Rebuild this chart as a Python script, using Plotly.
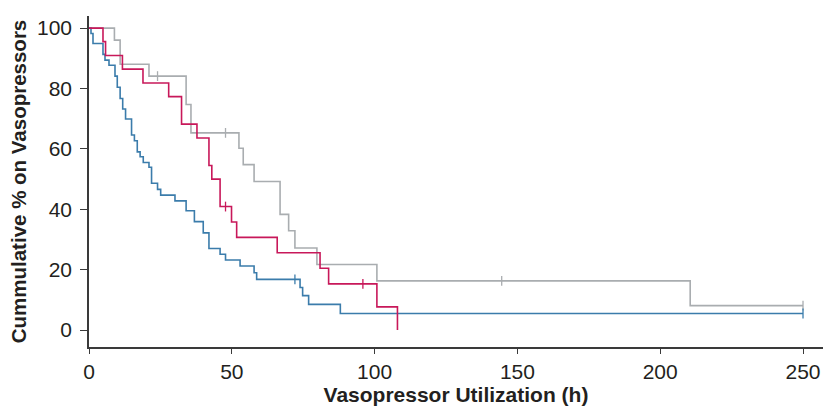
import plotly.graph_objects as go

# ---- data ----
gray_t = [0, 8.9, 10.9, 21.0, 34.0, 35.7, 52.5, 54.0, 57.8, 66.9, 69.9, 72.1, 79.8, 100.8, 210.5, 250]
gray_s = [100, 96, 88, 84.1, 74.7, 65.3, 60.2, 54.8, 49.2, 38.3, 32.9, 27.2, 21.7, 16.3, 8.1, 8.1]
gray_cens_t = [24.0, 47.8, 144.5, 250]
gray_cens_s = [84.1, 65.3, 16.3, 8.1]

red_t = [0, 4.9, 5.8, 11.7, 18.9, 27.9, 32.4, 37.8, 42.0, 43.0, 45.9, 49.9, 51.7, 65.9, 80.9, 83.9, 100.8, 108.0]
red_s = [100, 95.5, 90.9, 86.4, 81.8, 77.3, 68.2, 63.6, 54.5, 50.0, 40.9, 35.8, 30.7, 25.6, 20.5, 15.3, 7.7, 0]
red_cens_t = [47.8, 95.9]
red_cens_s = [40.9, 15.3]

blue_t = [0, 0.7, 1.4, 4.9, 5.6, 7.0, 9.1, 9.9, 10.9, 11.8, 12.8, 14.9, 15.9, 16.9, 17.9, 19.0, 21.0, 21.9,
          24.0, 25.1, 30.1, 34.0, 36.9, 40.0, 42.0, 45.9, 47.8, 52.9, 57.8, 58.7, 73.9, 74.8, 76.9, 88.0, 250]
blue_s = [100, 98.2, 94.9, 91.3, 89.4, 87.7, 84.1, 80.4, 76.7, 73.2, 69.9, 64.6, 62.7, 59.0, 57.4, 55.5, 53.9, 48.6,
          46.6, 44.7, 42.8, 39.5, 35.9, 32.2, 27.0, 25.1, 23.2, 21.2, 19.0, 16.8, 14.1, 11.4, 8.5, 5.5, 5.5]
blue_cens_t = [72.1, 250]
blue_cens_s = [16.8, 5.5]

x_ticks = [0, 50, 100, 150, 200, 250]
y_ticks = [0, 20, 40, 60, 80, 100]

GRAY = "#a9adb0"
BLUE = "#3b7cab"
RED = "#c8185a"

fig = go.Figure()
for t, s, ct, cs, col in [(gray_t, gray_s, gray_cens_t, gray_cens_s, GRAY),
                          (blue_t, blue_s, blue_cens_t, blue_cens_s, BLUE),
                          (red_t, red_s, red_cens_t, red_cens_s, RED)]:
    fig.add_trace(go.Scatter(x=t, y=s, mode="lines", line=dict(color=col, width=1.6, shape="hv"),
                             showlegend=False, hoverinfo="skip"))
    fig.add_trace(go.Scatter(x=ct, y=cs, mode="markers",
                             marker=dict(symbol="line-ns", size=7, line=dict(color=col, width=1.3)),
                             showlegend=False, hoverinfo="skip"))

font_family = "Liberation Sans, Arial, sans-serif"
fig.update_layout(
    width=823, height=412,
    margin=dict(l=89, r=0, t=16, b=65),
    plot_bgcolor="white", paper_bgcolor="white",
    font=dict(family=font_family, color="#231f20"),
    xaxis=dict(range=[0, 257], tickvals=x_ticks, showgrid=False, zeroline=False,
               showline=True, linecolor="#3a3a3a", linewidth=1.5,
               ticks="outside", ticklen=5, tickwidth=1.3, tickcolor="#3a3a3a",
               tickfont=dict(size=21),
               title=dict(text="<b>Vasopressor Utilization (h)</b>", font=dict(size=21), standoff=5)),
    yaxis=dict(range=[-5.6, 104], tickvals=y_ticks, showgrid=False, zeroline=False,
               showline=True, linecolor="#3a3a3a", linewidth=1.5,
               ticks="outside", ticklen=7, tickwidth=1.3, tickcolor="#3a3a3a",
               tickfont=dict(size=21), ticklabelstandoff=4,
               title=dict(text="<b>Cummulative % on Vasopressors</b>", font=dict(size=20.5), standoff=5)),
)

fig.write_html("out.html")
